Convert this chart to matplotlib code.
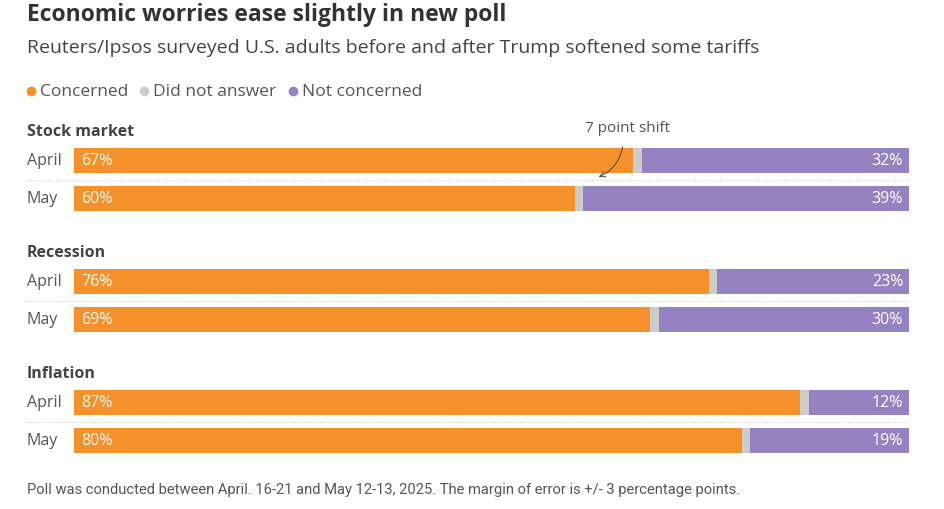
import matplotlib
matplotlib.use("Agg")
import numpy as np
from matplotlib import pyplot as plt
from matplotlib.lines import Line2D

# data
topics = ["Stock market", "Recession", "Inflation"]
periods = ["April", "May"]
concerned = [[67, 60], [76, 69], [87, 80]]
no_answer = [[1, 1], [1, 1], [1, 1]]
not_concerned = [[32, 39], [23, 30], [12, 19]]

ORANGE = "#F4912A"
GREY = "#CCCCCC"
PURPLE = "#9583C1"
DARK = "#333333"
MID = "#555555"

plt.rcParams["font.family"] = ["Open Sans", "DejaVu Sans"]

W, H = 944, 510
fig = plt.figure(figsize=(W / 100, H / 100), dpi=100)

# axes spans bar region horizontally, full figure vertically (pixel rows)
x0, x1 = 74, 909
ax = fig.add_axes([x0 / W, 0, (x1 - x0) / W, 1])
ax.set_xlim(0, 100)
ax.set_ylim(H, 0)
ax.axis("off")

def px_x(v):
    return (v - x0) / (x1 - x0) * 100

group_top = 132
group_step = 121
bar_h = 25
for i, topic in enumerate(topics):
    gy = group_top + i * group_step
    ax.text(px_x(27), gy, topic, fontsize=11.5, fontweight="bold", color="#444444",
            va="center", ha="left", clip_on=False)
    for j, per in enumerate(periods):
        yc = gy + 29.5 + j * 38
        c = concerned[i][j]
        n = no_answer[i][j]
        nc = not_concerned[i][j]
        ax.barh(yc, c, height=bar_h, left=0, color=ORANGE, linewidth=0)
        ax.barh(yc, n, height=bar_h, left=c, color=GREY, linewidth=0)
        ax.barh(yc, nc, height=bar_h, left=c + n, color=PURPLE, linewidth=0)
        ax.text(px_x(27), yc, per, fontsize=11.5, color=MID, va="center", ha="left",
                clip_on=False)
        ax.text(0.85, yc, f"{c}%", fontsize=11.5, color="white", va="center", ha="left")
        ax.text(99.3, yc, f"{nc}%", fontsize=11.5, color="white", va="center", ha="right")
    # dotted separator between rows
    ax.plot([px_x(25), 100], [gy + 48.5, gy + 48.5], color="#cfcfcf", lw=0.8,
            ls=(0, (1, 1.5)), clip_on=False)

# annotation
ax.text(px_x(628), 128, "7 point shift", fontsize=11, color=MID, ha="center", va="center")
ax.annotate("", xy=(px_x(596), 179), xytext=(px_x(623), 145),
            arrowprops=dict(arrowstyle="->", color="#555555", lw=0.8,
                            connectionstyle="arc3,rad=-0.3"))

# titles
fig.text(27 / W, 1 - 15 / H, "Economic worries ease slightly in new poll", fontsize=16.5,
         fontweight="bold", color=DARK, ha="left", va="center")
fig.text(27 / W, 1 - 48 / H,
         "Reuters/Ipsos surveyed U.S. adults before and after Trump softened some tariffs",
         fontsize=14, color="#444444", ha="left", va="center")

# legend
leg_items = [("Concerned", ORANGE, 31), ("Did not answer", GREY, 144), ("Not concerned", PURPLE, 293)]
for label, col, lx in leg_items:
    fig.text((lx + 9) / W, 1 - 92 / H, label, fontsize=12.5, color=MID, ha="left", va="center")
    fig.add_artist(Line2D([lx / W], [1 - 92 / H], marker="o", markersize=6,
                          color=col, linestyle="none", transform=fig.transFigure))

# footnote
fig.text(27 / W, 1 - 490 / H,
         "Poll was conducted between April. 16-21 and May 12-13, 2025. The margin of error is +/- 3 percentage points.",
         fontsize=10.6, color=MID, ha="left", va="center", family=["Roboto", "DejaVu Sans"])

fig.savefig("out.png", dpi=100, facecolor="white")
